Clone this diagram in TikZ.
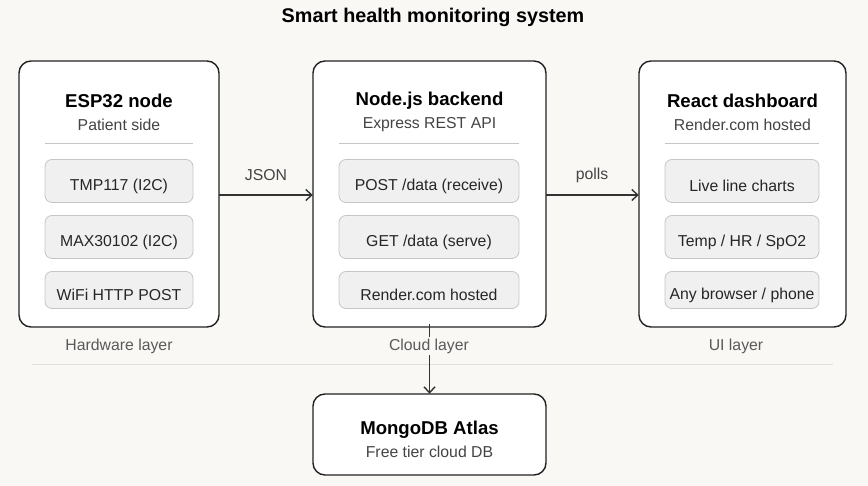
\documentclass[tikz,border=0pt]{standalone}
\usepackage{fontspec}
\setmainfont{Liberation Sans}
\usetikzlibrary{arrows.meta}
\definecolor{bg}{HTML}{F9F8F5}
\definecolor{subfill}{HTML}{F0F0F0}
\definecolor{subdraw}{HTML}{C6C6C6}
\definecolor{boxdraw}{HTML}{222222}
\definecolor{arr}{HTML}{333333}
\definecolor{graytxt}{HTML}{444444}
\definecolor{laytxt}{HTML}{5A5A5A}
\definecolor{sep}{HTML}{E2E0DB}
\begin{document}
\begin{tikzpicture}[x=1pt,y=-1pt,
  mainbox/.style={draw=boxdraw,line width=1.4pt,fill=white,rounded corners=12pt},
  subbox/.style={draw=subdraw,line width=0.8pt,fill=subfill,rounded corners=7pt},
  ttl/.style={font=\fontsize{18.6}{22}\selectfont\bfseries,text=black},
  subt/.style={font=\fontsize{15.8}{18}\selectfont,text=graytxt},
  itm/.style={font=\fontsize{15.8}{18}\selectfont,text=black!85},
  lay/.style={font=\fontsize{15.8}{18}\selectfont,text=laytxt},
  conn/.style={draw=arr,line width=1.4pt,-{Straight Barb[length=6pt,width=11pt,line width=1.4pt]}},
  elab/.style={font=\fontsize{15.8}{18}\selectfont,text=graytxt}]
\useasboundingbox[fill=bg] (0,0) rectangle (868,486);
\node[font=\fontsize{19.8}{23}\selectfont\bfseries] (title) at (433,17) {Smart health monitoring system};
% separator
\draw[sep,line width=1pt] (32,365) -- (833,365);
% main boxes
\path[mainbox] (19,61) rectangle (219,327);
\path[mainbox] (313,61) rectangle (546,327);
\path[mainbox] (639,61) rectangle (846,327);
\path[mainbox] (313,394) rectangle (546,475);
\node[inner sep=0,minimum width=200pt,minimum height=266pt] (espbox) at (119,194) {};
\node[inner sep=0,minimum width=233pt,minimum height=266pt] (nodebox) at (429.5,194) {};
\node[inner sep=0,minimum width=207pt,minimum height=266pt] (reactbox) at (742.5,194) {};
\node[inner sep=0,minimum width=233pt,minimum height=81pt] (mongobox) at (429.5,434.5) {};
% titles
\node[ttl] (t1) at (119,101) {ESP32 node};
\node[subt] (s1) at (119,125) {Patient side};
\node[ttl] (t2) at (429.5,101) {Node.js backend};
\node[subt] (s2) at (429.5,125) {Express REST API};
\node[ttl] (t3) at (742.5,101) {React dashboard};
\node[subt] (s3) at (742.5,125) {Render.com hosted};
\node[ttl] (t4) at (429.5,430) {MongoDB Atlas};
\node[subt] (s4) at (429.5,452) {Free tier cloud DB};
% dividers
\draw[subdraw,line width=0.8pt] (45,143) -- (193,143);
\draw[subdraw,line width=0.8pt] (339,143) -- (519,143);
\draw[subdraw,line width=0.8pt] (665,143) -- (819,143);
% sub boxes
\foreach \xa/\xb in {45/193, 339/519, 665/819}{
  \path[subbox] (\xa,159.5) rectangle (\xb,202.5);
  \path[subbox] (\xa,215.5) rectangle (\xb,258.5);
  \path[subbox] (\xa,271.5) rectangle (\xb,308.5);
}
\node[itm] (a1) at (119,186) {TMP117 (I2C)};
\node[itm] (a2) at (119,242) {MAX30102 (I2C)};
\node[itm] (a3) at (119,295) {WiFi HTTP POST};
\node[itm] (b1) at (429,186) {POST /data (receive)};
\node[itm] (b2) at (429,242) {GET /data (serve)};
\node[itm] (b3) at (429,295) {Render.com hosted};
\node[itm] (c1) at (742,186) {Live line charts};
\node[itm] (c2) at (742,242) {Temp / HR / SpO2};
\node[itm] (c3) at (742,295) {Any browser / phone};
% connectors
\draw[conn] (espbox.east |- 0,195) -- (nodebox.west |- 0,195);
\draw[conn] (nodebox.east |- 0,195) -- (reactbox.west |- 0,195);
\node[elab] (json) at (266,175) {JSON};
\node[elab] (polls) at (592,175) {polls};
\draw[conn] ([yshift=3pt]nodebox.south) -- (mongobox.north);
% layer labels
\node[lay] (l1) at (119,346) {Hardware layer};
\node[lay,fill=bg,inner sep=2pt] (l2) at (429,346) {Cloud layer};
\node[lay] (l3) at (736,346) {UI layer};
\end{tikzpicture}
\end{document}
